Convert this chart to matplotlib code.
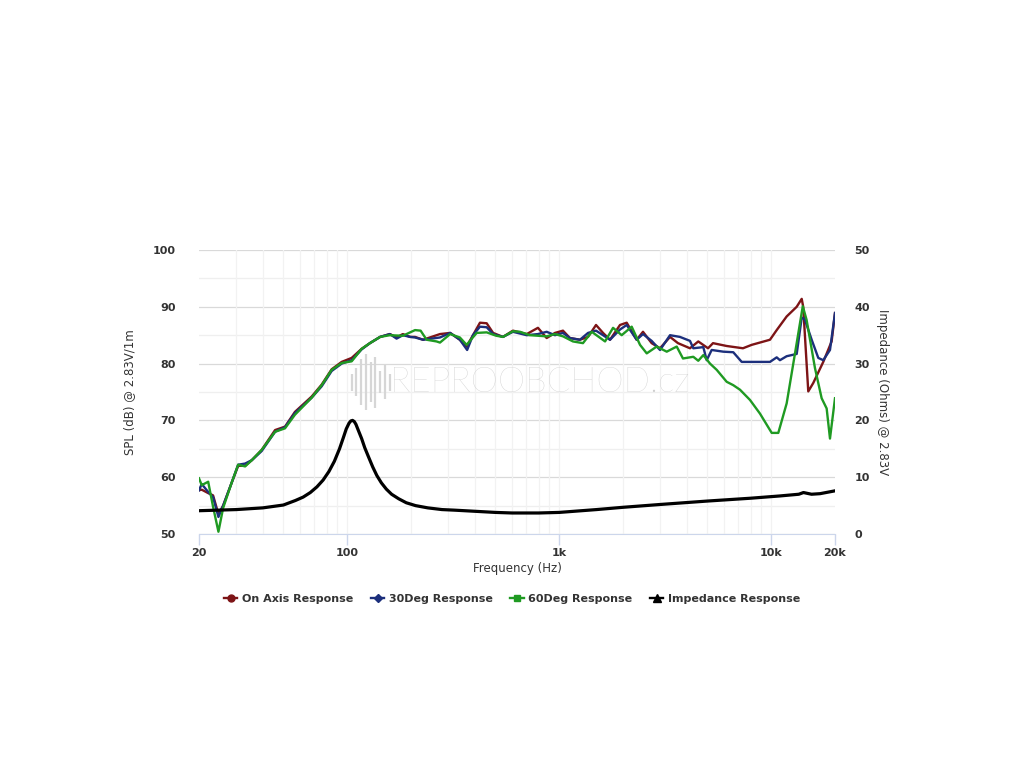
import numpy as np
import matplotlib
matplotlib.use("Agg")
import matplotlib.pyplot as plt
from matplotlib.ticker import FixedLocator, NullFormatter
from matplotlib.lines import Line2D

# frequency response readings (Hz, dB)
on_axis_f = [20, 20.6, 22.1, 23.3, 24.7, 26.0, 28.5, 30.6, 33, 35.5,
             39.5, 45.7, 50.9, 56.7, 68, 75.8, 84.5, 94.2, 105, 117,
             128, 143, 159, 171, 183, 198, 209, 228, 274, 306,
             340, 366, 392, 423, 455, 488, 543, 605, 703, 794,
             873, 955, 1042, 1124, 1253, 1368, 1492, 1610, 1737, 1936,
             2082, 2320, 2485, 2730, 2990, 3333, 3634, 4140, 4530, 5036,
             5316, 6166, 7360, 8092, 9870, 10618, 11832, 13194, 13932, 14160,
             14960, 15800, 17606, 19280, 20000]
on_axis_spl = [57.7, 57.8, 57.2, 56.8, 53.5, 55.0, 59.0, 62.0, 62.0, 63.0,
               64.8, 68.3, 68.9, 71.5, 74.2, 76.3, 79.0, 80.3, 81.0, 82.6,
               83.6, 84.7, 85.2, 84.6, 85.2, 84.7, 84.7, 84.2, 85.2, 85.4,
               84.2, 83.0, 85.0, 87.2, 87.1, 85.4, 84.7, 85.8, 85.2, 86.3,
               84.5, 85.4, 85.8, 84.5, 84.2, 84.7, 86.8, 85.4, 84.2, 86.8,
               87.2, 84.2, 85.6, 83.6, 82.7, 84.7, 83.6, 82.7, 83.9, 82.7,
               83.6, 83.1, 82.7, 83.3, 84.2, 85.9, 88.3, 90.0, 91.4, 90.0,
               75.1, 76.6, 80.3, 83.9, 88.9]

deg30_f = [20, 20.6, 22.1, 23.3, 24.7, 26.0, 28.5, 30.6, 33, 35.5,
           39.5, 45.7, 50.9, 56.7, 68, 75.8, 84.5, 94.2, 105, 117,
           128, 143, 159, 171, 183, 198, 209, 228, 274, 306,
           340, 368, 392, 423, 455, 488, 543, 605, 703, 794,
           873, 955, 1042, 1124, 1253, 1368, 1492, 1610, 1737, 1936,
           2082, 2320, 2485, 2730, 2990, 3333, 3712, 4140, 4292, 4785,
           4964, 5240, 5944, 6626, 7260, 8550, 9870, 10618, 11000, 11832,
           13194, 13932, 14400, 15524, 16680, 17606, 18940, 20000]
deg30_spl = [57.7, 58.8, 57.4, 56.5, 53.0, 55.0, 59.0, 62.2, 62.4, 63.0,
             64.6, 68.0, 68.8, 71.3, 74.0, 76.0, 78.7, 80.0, 80.6, 82.5,
             83.6, 84.7, 85.2, 84.4, 85.0, 84.7, 84.6, 84.2, 84.6, 85.4,
             84.2, 82.4, 85.0, 86.5, 86.4, 85.2, 84.7, 85.6, 85.0, 85.2,
             85.6, 85.0, 85.4, 84.5, 84.2, 85.4, 85.8, 85.0, 84.2, 86.0,
             86.8, 84.2, 85.2, 84.0, 82.4, 85.0, 84.7, 84.0, 82.7, 82.9,
             80.6, 82.4, 82.1, 82.0, 80.3, 80.3, 80.3, 81.1, 80.6, 81.3,
             81.7, 88.1, 87.8, 84.2, 81.0, 80.6, 82.4, 88.9]

deg60_f = [20, 20.6, 22.1, 23.3, 24.7, 26.0, 28.5, 30.6, 33, 35.5,
           39.5, 45.7, 50.9, 56.7, 68, 75.8, 84.5, 94.2, 105, 117,
           128, 143, 159, 183, 209, 222, 237, 264, 274, 306,
           340, 366, 408, 455, 505, 543, 605, 653, 728, 873,
           955, 1042, 1162, 1295, 1424, 1646, 1795, 1972, 2198, 2406,
           2588, 2884, 3216, 3584, 3836, 4292, 4530, 4785, 5146, 5534,
           6166, 6626, 7128, 7944, 8852, 10058, 10804, 11832, 12952, 14094,
           14690, 16092, 17300, 18268, 18940, 20000]
deg60_spl = [59.8, 58.6, 59.2, 54.8, 50.4, 54.6, 59.0, 62.2, 61.9, 63.0,
             64.8, 68.0, 68.6, 71.0, 74.0, 76.2, 78.9, 80.1, 80.4, 82.6,
             83.6, 84.7, 85.0, 84.9, 85.9, 85.8, 84.2, 83.9, 83.7, 85.2,
             84.6, 83.3, 85.4, 85.5, 84.9, 84.7, 85.7, 85.6, 85.0, 84.8,
             85.2, 84.8, 83.9, 83.6, 85.6, 83.9, 86.3, 85.0, 86.5, 83.3,
             81.8, 83.0, 82.1, 83.0, 80.9, 81.2, 80.5, 81.5, 80.0, 78.9,
             76.8, 76.2, 75.4, 73.6, 71.2, 67.8, 67.8, 73.0, 81.8, 90.1,
             87.7, 79.2, 73.9, 72.1, 66.8, 73.9]

# impedance readings (Hz, Ohms)
imp_f = [20, 30, 40, 50, 57, 62, 67, 72, 77, 82,
         87, 92, 96, 99, 102, 104, 106, 108, 110, 113,
         117, 121, 126, 132, 138, 145, 153, 162, 175, 190,
         210, 240, 280, 320, 400, 500, 600, 800, 1000, 1500,
         2000, 3000, 5000, 8000, 11000, 13500, 14200, 15500, 17000, 20000]
imp_ohm = [4.1, 4.3, 4.6, 5.1, 5.9, 6.5, 7.3, 8.3, 9.5, 11.0,
           12.8, 15.0, 17.0, 18.5, 19.5, 19.9, 20.0, 19.8, 19.3, 18.2,
           16.8, 15.2, 13.6, 11.8, 10.3, 9.0, 7.9, 7.0, 6.2, 5.5,
           5.0, 4.6, 4.3, 4.2, 4.0, 3.8, 3.7, 3.7, 3.8, 4.3,
           4.7, 5.2, 5.8, 6.3, 6.7, 7.0, 7.3, 7.0, 7.1, 7.6]

x_ticks = [20, 100, 1000, 10000, 20000]
x_labels = ['20', '100', '1k', '10k', '20k']
minor_x = [m * d for d in (10, 100, 1000) for m in range(2, 10) if 20 < m * d < 20000 and m * d not in x_ticks]

red = '#7d1416'
blue = '#1c2f7c'
green = '#1f9a22'
tick_col = '#333333'

fig = plt.figure(figsize=(10.24, 7.68), dpi=100)
ax = fig.add_axes([199/1024, 1 - 534/768, (835-199)/1024, (534-250)/768])

ax.set_xscale('log')
ax.set_xlim(20, 20000)
ax.set_ylim(50, 100)

# grid
for v in range(50, 101, 10):
    ax.axhline(v, color='#d9d9d9', lw=0.9, zorder=0)
for v in range(55, 100, 10):
    ax.axhline(v, color='#efefef', lw=0.9, zorder=0)
for v in minor_x + x_ticks[1:-1]:
    ax.axvline(v, color='#f2f2f2', lw=0.9, zorder=0)

# watermark
ax.text(0.535, 0.535, 'REPROOBCHOD.cz', transform=ax.transAxes, ha='center', va='center',
        fontsize=25, color='#cdcdcd', family='Lato', weight='light', zorder=1)
bars = [0.3, 0.5, 0.8, 1.0, 0.7, 0.9, 0.4, 0.6, 0.3]
for i, h in enumerate(bars):
    xx = 0.24 + i * 0.0075
    ax.plot([xx, xx], [0.535 - h * 0.1, 0.535 + h * 0.1], transform=ax.transAxes,
            color='#d6d6d6', lw=1.6, zorder=1, solid_capstyle='butt')

ax.plot(on_axis_f, on_axis_spl, color=red, lw=1.7, zorder=3)
ax.plot(deg30_f, deg30_spl, color=blue, lw=1.7, zorder=4)
ax.plot(deg60_f, deg60_spl, color=green, lw=1.7, zorder=5)

ax.xaxis.set_major_locator(FixedLocator(x_ticks))
ax.set_xticklabels(x_labels)
ax.xaxis.set_minor_locator(FixedLocator(minor_x))
ax.xaxis.set_minor_formatter(NullFormatter())
ax.tick_params(axis='x', which='major', length=8, color='#ccd6eb', width=1, pad=2,
               labelsize=8, labelcolor=tick_col)
ax.tick_params(axis='x', which='minor', length=0)
ax.set_yticks(range(50, 101, 10))
ax.tick_params(axis='y', length=0, pad=17, labelsize=8, labelcolor=tick_col)
for lab in ax.get_yticklabels() + ax.get_xticklabels():
    lab.set_fontweight('bold')

for s in ['top', 'right', 'left']:
    ax.spines[s].set_visible(False)
ax.spines['bottom'].set_color('#ccd6eb')

ax.set_xlabel('Frequency (Hz)', fontsize=8.5, color=tick_col, labelpad=3)
ax.set_ylabel('SPL (dB) @ 2.83V/1m', fontsize=8.5, color=tick_col, labelpad=12)

ax2 = ax.twinx()
ax2.set_ylim(0, 50)
ax2.plot(imp_f, imp_ohm, color='black', lw=2.3, zorder=6, solid_joinstyle='round')
ax2.set_yticks(range(0, 51, 10))
ax2.tick_params(axis='y', length=0, pad=14, labelsize=8, labelcolor=tick_col)
for lab in ax2.get_yticklabels():
    lab.set_fontweight('bold')
for s in ['top', 'right', 'left', 'bottom']:
    ax2.spines[s].set_visible(False)
ax2.set_ylabel('Impedance (Ohms) @ 2.83V', fontsize=8.5, color=tick_col,
               rotation=270, labelpad=14, va='bottom')
ax2.yaxis.set_label_coords(1.065, 0.5)

handles = [
    Line2D([], [], color=red, marker='o', markersize=5, lw=1.7),
    Line2D([], [], color=blue, marker='D', markersize=4, lw=1.7),
    Line2D([], [], color=green, marker='s', markersize=5, lw=1.7),
    Line2D([], [], color='black', marker='^', markersize=6, lw=1.7),
]
labels = ['On Axis Response', '30Deg Response', '60Deg Response', 'Impedance Response']
leg = fig.legend(handles, labels, loc='center', bbox_to_anchor=(0.5, 1 - 599/768), ncol=4,
                 frameon=False, handlelength=1.2, handletextpad=0.4,
                 columnspacing=1.6, prop={'weight': 'bold', 'size': 8})
for t in leg.get_texts():
    t.set_color(tick_col)

fig.savefig('out.png', dpi=100, facecolor='white')
